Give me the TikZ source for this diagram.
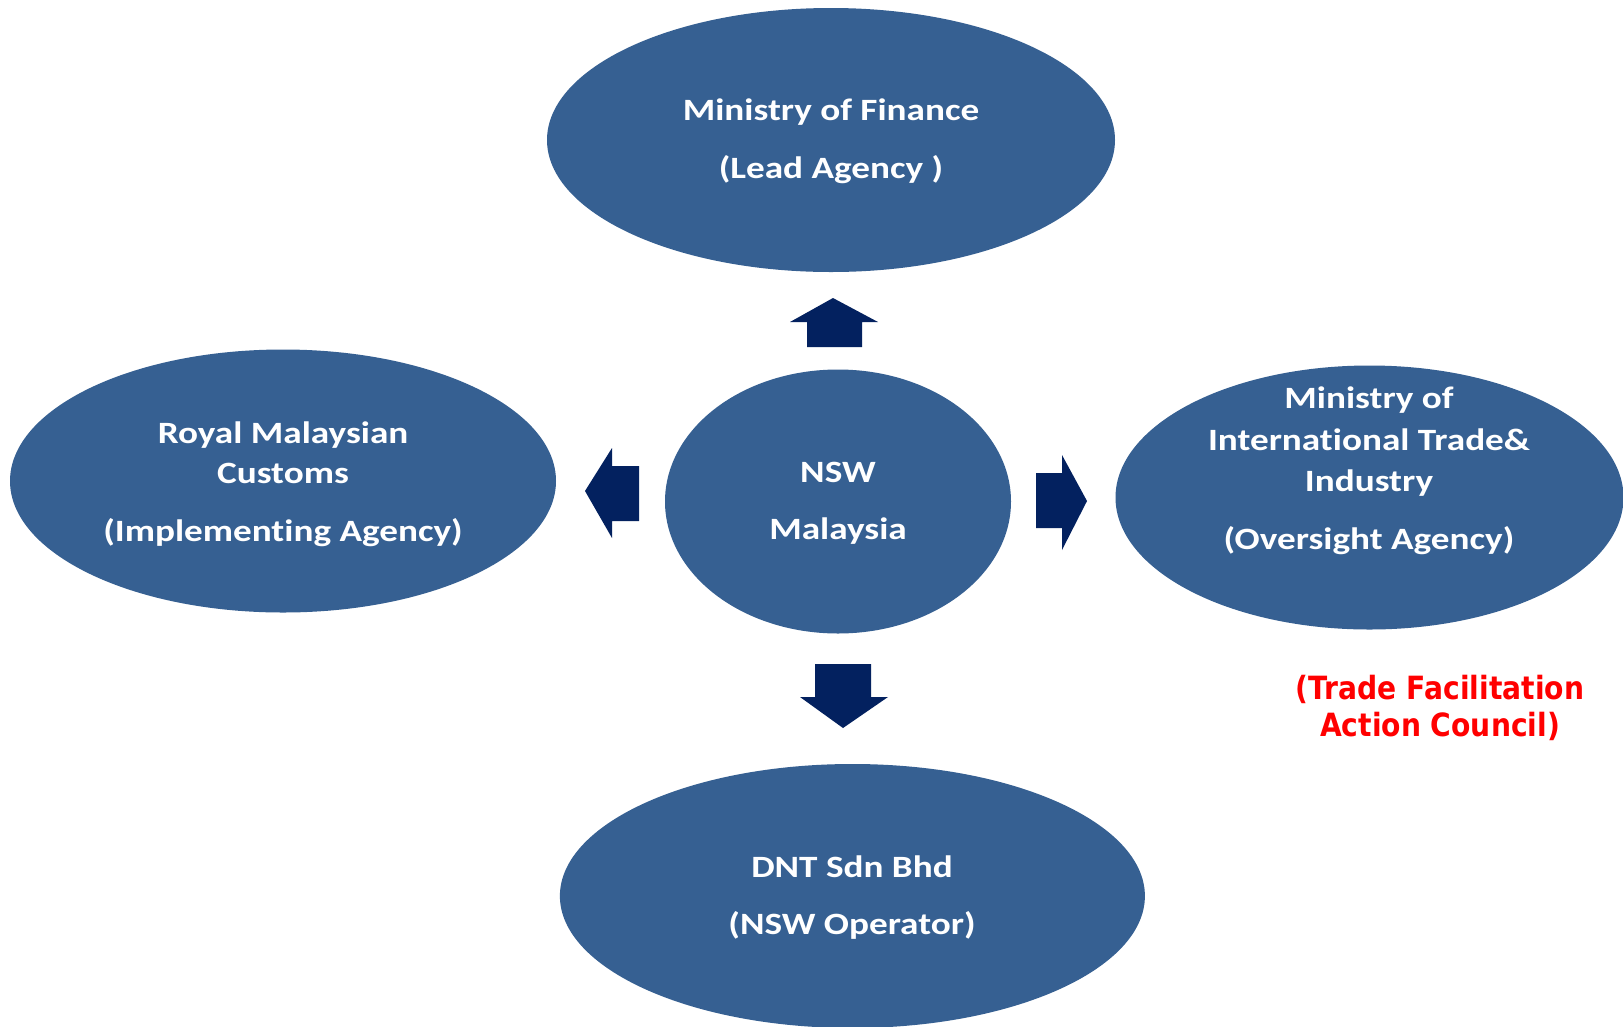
\documentclass[tikz,border=0pt]{standalone}
\usepackage{fontspec}
\usetikzlibrary{shapes.geometric}
\newfontfamily\labfont{Carlito}[FakeStretch=1.2, Ligatures=NoCommon]
\newfontfamily\redfont{DejaVu Sans}[FakeStretch=0.88]
\definecolor{ellblue}{HTML}{366092}
\definecolor{arrnavy}{HTML}{03215F}
\definecolor{redtxt}{HTML}{FF0000}
\tikzset{
  oval/.style={ellipse, fill=ellblue, draw=none, inner sep=0pt},
  lbl/.style={anchor=base, inner sep=0pt, text=white, font=\labfont\bfseries\fontsize{31}{39}\selectfont},
  rlbl/.style={anchor=base, inner sep=0pt, text=redtxt, font=\redfont\bfseries\fontsize{32}{38}\selectfont},
  blockarrow/.style={fill=arrnavy, draw=none}
}
\begin{document}
\begin{tikzpicture}[x=1pt,y=-1pt]
\useasboundingbox (0,0) rectangle (1623,1026);
\clip (0,0) rectangle (1623,1026);
\fill[white] (0,0) rectangle (1623,1026);

% ellipses
\node[oval, minimum width=568pt, minimum height=264pt] (fin) at (831,140) {};
\node[oval, minimum width=546pt, minimum height=263pt] (cust) at (283,481) {};
\node[oval, minimum width=346pt, minimum height=264pt] (nsw) at (838,501.5) {};
\node[oval, minimum width=508pt, minimum height=264pt] (miti) at (1369.5,497.5) {};
\node[oval, minimum width=585pt, minimum height=264pt] (dnt) at (852.4,896) {};

% block arrows
\fill[blockarrow] (833,298) -- (878,322) -- (862,322) -- (862,347) -- (807,347) -- (807,322) -- (790,322) -- cycle;
\fill[blockarrow] (843,728) -- (888,697) -- (871,697) -- (871,664) -- (815,664) -- (815,697) -- (800,697) -- cycle;
\fill[blockarrow] (585,491) -- (612,448) -- (612,466) -- (639,466) -- (639,521) -- (612,521) -- (612,538) -- cycle;
\fill[blockarrow] (1087,501) -- (1062,455) -- (1062,473) -- (1036,473) -- (1036,528) -- (1062,528) -- (1062,550) -- cycle;

% texts
\node[lbl] (fin1) at (831,120) {Ministry of Finance};
\node[lbl] (fin2) at (831,178) {(Lead Agency )};

\node[lbl] (cust1) at (283,443) {Royal Malaysian};
\node[lbl] (cust2) at (283,483) {Customs};
\node[lbl] (cust3) at (283,541) {(Implementing Agency)};

\node[lbl] (nsw1) at (838,482) {NSW};
\node[lbl] (nsw2) at (838,539) {Malaysia};

\node[lbl] (miti1) at (1369,408) {Ministry of};
\node[lbl] (miti2) at (1369,450) {International Trade\&};
\node[lbl] (miti3) at (1369,491) {Industry};
\node[lbl] (miti4) at (1369,549) {(Oversight Agency)};

\node[lbl] (dnt1) at (852,877) {DNT Sdn Bhd};
\node[lbl] (dnt2) at (852,934) {(NSW Operator)};

\node[rlbl] (tfac1) at (1440,699) {(Trade Facilitation};
\node[rlbl] (tfac2) at (1440,736) {Action Council)};
\end{tikzpicture}
\end{document}
